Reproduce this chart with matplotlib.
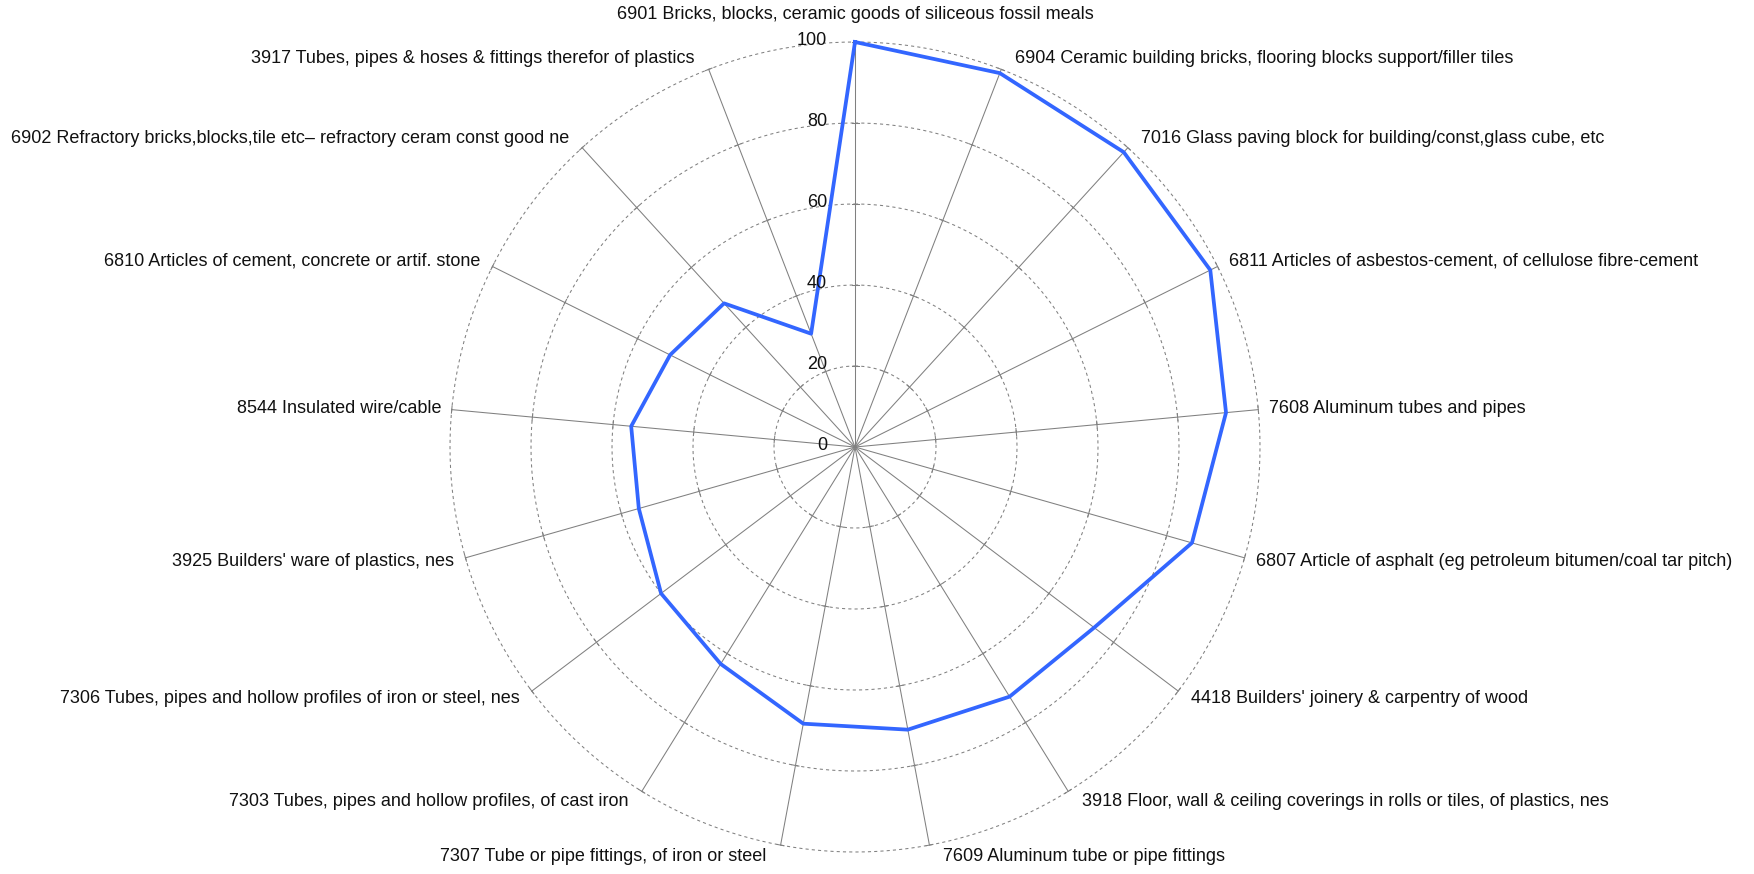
import numpy as np
import matplotlib
matplotlib.use("Agg")
import matplotlib.pyplot as plt

plt.rcParams['font.family'] = ['Liberation Sans', 'DejaVu Sans']

categories = [
    "6901 Bricks, blocks, ceramic goods of siliceous fossil meals",
    "6904 Ceramic building bricks, flooring blocks support/filler tiles",
    "7016 Glass paving block for building/const,glass cube, etc",
    "6811 Articles of asbestos-cement, of cellulose fibre-cement",
    "7608 Aluminum tubes and pipes",
    "6807 Article of asphalt (eg petroleum bitumen/coal tar pitch)",
    "4418 Builders' joinery & carpentry of wood",
    "3918 Floor, wall & ceiling coverings in rolls or tiles, of plastics, nes",
    "7609 Aluminum tube or pipe fittings",
    "7307 Tube or pipe fittings, of iron or steel",
    "7303 Tubes, pipes and hollow profiles, of cast iron",
    "7306 Tubes, pipes and hollow profiles of iron or steel, nes",
    "3925 Builders' ware of plastics, nes",
    "8544 Insulated wire/cable",
    "6810 Articles of cement, concrete or artif. stone",
    "6902 Refractory bricks,blocks,tile etc\u2013 refractory ceram const good ne",
    "3917 Tubes, pipes & hoses & fittings therefor of plastics",
]
values = [100, 99, 98.5, 98, 92, 86.5, 74, 72.5, 71, 69.5, 63, 60, 55.5, 55.5, 51, 48, 30]
levels = [0, 20, 40, 60, 80, 100]

n = len(categories)
theta = np.arange(n) * 2 * np.pi / n

fig = plt.figure(figsize=(17.54, 8.74), dpi=100)
ax = fig.add_axes([0.25656, 0.02517, 0.46180, 0.92677], projection='polar')
ax.set_theta_zero_location('N')
ax.set_theta_direction(-1)
ax.set_ylim(0, 100)
ax.set_xticks([])
ax.set_yticks([])
ax.grid(False)
ax.spines['polar'].set_visible(False)
ax.patch.set_alpha(0)

grey = '#808080'
px_per_unit = 4.05
fs = 13

# rings
tt = np.linspace(0, 2 * np.pi, 721)
for lv in levels[1:]:
    ax.plot(tt, np.full_like(tt, lv), color=grey, lw=0.75, dashes=(3, 3),
            zorder=1, clip_on=False)

# spokes and small ticks
for t in theta:
    ax.plot([t, t], [0, 100], color=grey, lw=0.75, zorder=2, clip_on=False)
    for lv in levels[1:]:
        d = 3.5 / (lv * px_per_unit)
        ax.plot([t - d, t + d], [lv, lv], color=grey, lw=0.75, zorder=2, clip_on=False)

# data polygon
vals = np.array(values + values[:1])
angs = np.concatenate([theta, theta[:1]])
ax.plot(angs, vals, color='#3366FF', lw=2.7, zorder=5, clip_on=False)

# radial tick labels
for lv in levels:
    ax.annotate(str(lv), xy=(0, lv), xytext=(-28, 2), textcoords='offset pixels',
                ha='right', va='center', fontsize=13, color='#111111', zorder=6)

# category labels
for t, lab in zip(theta, categories):
    s, c = np.sin(t), np.cos(t)
    if abs(s) < 1e-6:
        ax.annotate(lab, xy=(t, 100), xytext=(0, 28), textcoords='offset pixels',
                    ha='center', va='center', fontsize=fs, color='#111111',
                    annotation_clip=False)
        continue
    ha = 'left' if s > 0 else 'right'
    dx = (10 + 4 * abs(c)) * np.sign(s)
    dy = 12 * c
    ax.annotate(lab, xy=(t, 100), xytext=(dx, dy), textcoords='offset pixels',
                ha=ha, va='center', fontsize=fs, color='#111111',
                annotation_clip=False)

fig.savefig('out.png', dpi=100, facecolor='white')
